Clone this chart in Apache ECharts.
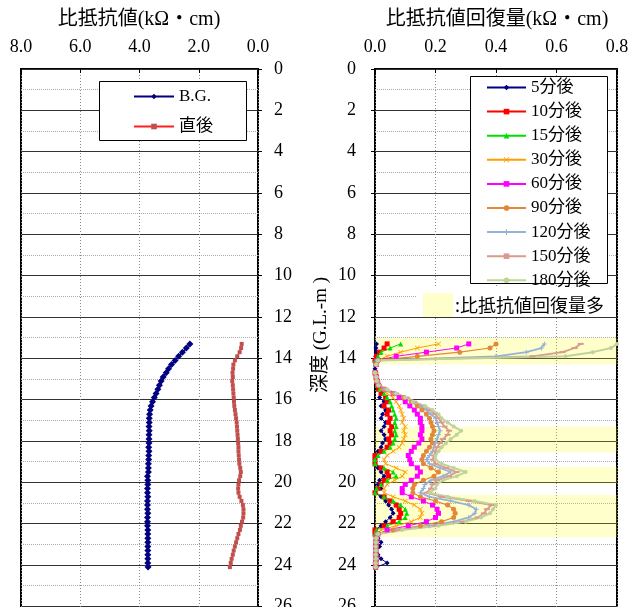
<!DOCTYPE html>
<html><head><meta charset="utf-8">
<script src="https://cdn.jsdelivr.net/npm/echarts@6/dist/echarts.min.js"></script>
<style>html,body{margin:0;padding:0;background:#fff}#c{width:630px;height:607px}</style>
</head><body><div id="c"></div>
<script>
// ---- data ----
const depths = [13.3,13.5,13.7,13.9,14.1,14.3,14.5,14.7,14.9,15.1,15.3,15.5,15.7,15.9,16.1,16.3,16.5,16.7,16.9,17.1,17.3,17.5,17.7,17.9,18.1,18.3,18.5,18.7,18.9,19.1,19.3,19.5,19.7,19.9,20.1,20.3,20.5,20.7,20.9,21.1,21.3,21.5,21.7,21.9,22.1,22.3,22.5,22.7,22.9,23.1,23.3,23.5,23.7,23.9,24.1];
const bgValues = [2.30,2.42,2.55,2.68,2.80,2.92,3.02,3.10,3.20,3.27,3.33,3.38,3.44,3.50,3.56,3.61,3.64,3.66,3.67,3.67,3.68,3.67,3.68,3.68,3.68,3.69,3.68,3.69,3.69,3.70,3.70,3.70,3.73,3.72,3.72,3.73,3.73,3.72,3.73,3.73,3.73,3.72,3.73,3.73,3.73,3.72,3.72,3.72,3.72,3.72,3.72,3.72,3.72,3.72,3.71];
const afterValues = [0.55,0.57,0.62,0.70,0.78,0.83,0.84,0.86,0.85,0.87,0.85,0.84,0.83,0.82,0.81,0.80,0.78,0.76,0.74,0.72,0.71,0.70,0.69,0.68,0.67,0.66,0.66,0.65,0.64,0.63,0.60,0.58,0.60,0.64,0.66,0.67,0.66,0.62,0.56,0.51,0.49,0.49,0.50,0.54,0.58,0.61,0.66,0.70,0.74,0.78,0.82,0.85,0.89,0.92,0.95];

const rec5 = [0.005,0.003,0.004,0.002,0.000,0.002,0.000,0.003,0.005,0.010, 0.015,0.010,0.025,0.015,0.030,0.020,0.035,0.025,0.020,0.035, 0.030,0.020,0.030,0.035,0.025,0.020,0.010,0.000,0.000,0.000, 0.010,0.020,0.030,0.015,0.010,0.020,0.000,0.020,0.035,0.045, 0.055,0.060,0.050,0.035,0.020,0.000,0.005,0.010,0.020,0.015, 0.005,0.010,0.020,0.040,0.005];
const rec10 = [0.040,0.030,0.015,0.005,0.000,0.003,-0.002,0.002,0.004,0.006, 0.008,0.012,0.020,0.035,0.040,0.030,0.045,0.040,0.050,0.045, 0.055,0.050,0.055,0.045,0.050,0.040,0.020,0.000,0.000,0.000, 0.020,0.040,0.045,0.030,0.020,0.010,0.000,0.030,0.050,0.070, 0.080,0.085,0.080,0.060,0.030,0.000,0.000,0.005,0.003,0.004, 0.002,0.003,0.004,0.003,0.002];
const rec15 = [0.085,0.050,0.020,0.010,0.000,0.002,-0.003,0.001,0.003,0.005, 0.008,0.015,0.030,0.040,0.050,0.055,0.060,0.065,0.070,0.065, 0.070,0.065,0.070,0.065,0.060,0.050,0.030,0.010,0.000,0.000, 0.030,0.060,0.070,0.040,0.020,0.005,0.000,0.030,0.060,0.085, 0.100,0.105,0.100,0.080,0.040,0.005,0.000,0.003,0.002,0.004, 0.002,0.003,0.002,0.003,0.002];
const rec30 = [0.210,0.140,0.085,0.040,0.008,0.004,-0.004,0.000,0.003,0.006, 0.010,0.020,0.040,0.060,0.070,0.080,0.085,0.090,0.095,0.090, 0.100,0.095,0.100,0.095,0.090,0.080,0.060,0.040,0.030,0.035, 0.070,0.100,0.090,0.065,0.040,0.030,0.030,0.060,0.100,0.130, 0.150,0.155,0.150,0.120,0.070,0.020,0.005,0.003,0.002,0.003, 0.002,0.003,0.002,0.002,0.002];
const rec60 = [0.310,0.270,0.170,0.070,0.008,0.004,-0.004,0.000,0.004,0.006, 0.012,0.030,0.060,0.080,0.100,0.115,0.130,0.140,0.150,0.150, 0.155,0.155,0.150,0.155,0.145,0.130,0.120,0.110,0.115,0.120, 0.140,0.150,0.140,0.120,0.100,0.090,0.090,0.120,0.160,0.190, 0.205,0.210,0.200,0.170,0.110,0.040,0.010,0.004,0.003,0.002, 0.003,0.002,0.003,0.002,0.002];
const rec90 = [0.400,0.380,0.280,0.140,0.010,0.004,-0.005,0.000,0.004,0.006, 0.012,0.030,0.060,0.095,0.120,0.140,0.155,0.170,0.180,0.185, 0.190,0.195,0.190,0.185,0.190,0.180,0.170,0.160,0.155,0.160, 0.185,0.210,0.195,0.160,0.130,0.125,0.125,0.150,0.200,0.240, 0.260,0.265,0.260,0.220,0.150,0.060,0.010,0.004,0.003,0.002, 0.003,0.002,0.003,0.002,0.002];
const rec120 = [0.560,0.550,0.500,0.400,0.010,0.004,-0.005,0.000,0.004,0.006, 0.012,0.030,0.065,0.100,0.125,0.150,0.170,0.185,0.200,0.205, 0.210,0.215,0.210,0.205,0.200,0.195,0.190,0.180,0.170,0.180, 0.215,0.250,0.225,0.185,0.165,0.160,0.150,0.180,0.250,0.310, 0.335,0.330,0.310,0.260,0.180,0.070,0.010,0.004,0.003,0.002, 0.003,0.002,0.003,0.002,0.002];
const rec150 = [0.680,0.660,0.620,0.520,0.010,0.004,-0.005,0.000,0.004,0.006, 0.012,0.035,0.070,0.105,0.130,0.160,0.180,0.200,0.210,0.220, 0.230,0.245,0.240,0.225,0.215,0.205,0.200,0.195,0.190,0.200, 0.235,0.270,0.245,0.205,0.190,0.185,0.170,0.220,0.310,0.385, 0.370,0.360,0.340,0.290,0.200,0.080,0.010,0.004,0.003,0.002, 0.003,0.002,0.003,0.002,0.002];
const rec180 = [0.800,0.780,0.720,0.630,0.010,0.004,-0.005,0.000,0.004,0.006, 0.012,0.040,0.070,0.100,0.125,0.165,0.190,0.210,0.220,0.240, 0.260,0.285,0.270,0.250,0.235,0.220,0.210,0.200,0.200,0.220, 0.260,0.300,0.270,0.225,0.205,0.200,0.180,0.240,0.330,0.400, 0.390,0.380,0.350,0.300,0.210,0.090,0.010,0.004,0.003,0.002, 0.003,0.002,0.003,0.002,0.002];

const leftSeriesNames = ['B.G.', '直後'];
const rightSeriesNames = ['5分後','10分後','15分後','30分後','60分後','90分後','120分後','150分後','180分後'];
const recoveryBands = [[13.0, 14.3], [17.3, 18.55], [19.25, 20.05], [20.6, 22.65]];
const leftTitle = '比抵抗値(kΩ・cm)';
const rightTitle = '比抵抗値回復量(kΩ・cm)';
const depthTitle = '深度 (G.L.-m )';
const bandLabel = ':比抵抗値回復量多';
const leftXMax = 8, rightXMax = 0.8, depthMax = 28;

// ---- chart ----
const FONT = '"Liberation Serif", "Times New Roman", "Noto Sans CJK JP", serif';
const pairs = vals => vals.map((v, i) => [v, depths[i]]);
const X_SYM = 'path://M0,1L1,0L5,4L9,0L10,1L6,5L10,9L9,10L5,6L1,10L0,9L4,5Z';
const PLUS_SYM = 'path://M4,0H6V4H10V6H6V10H4V6H0V4H4Z';

function xAxisCfg(grid, max, interval, inverse) {
  return {
    gridIndex: grid, type: 'value', position: 'top', min: 0, max: max, interval: interval, inverse: inverse,
    axisLine: { show: false },
    axisTick: { show: true, inside: true, length: 4, lineStyle: { color: '#000' } },
    axisLabel: { margin: 13, fontSize: 18, fontFamily: FONT, color: '#000', formatter: v => v.toFixed(1) },
    splitLine: { show: true, lineStyle: { color: '#888', type: [1, 2], width: 1 } }
  };
}
function yAxisCfg(grid, pos, margin) {
  return {
    gridIndex: grid, type: 'value', position: pos, min: 0, max: depthMax, interval: 2, inverse: true,
    axisLine: { show: false },
    axisTick: { show: true, length: 4, lineStyle: { color: '#000' } },
    axisLabel: { margin: margin, fontSize: 18, fontFamily: FONT, color: '#000' },
    splitLine: { show: true, lineStyle: { color: '#333', width: 1 } },
    minorTick: { show: false, splitNumber: 2 },
    minorSplitLine: { show: true, lineStyle: { color: '#aaa', type: [1, 1], width: 1 } }
  };
}

const rightStyles = [
  { data: rec5,   color: '#000080', symbol: 'diamond', size: 5, w: 1 },
  { data: rec10,  color: '#FF0000', symbol: 'rect', size: 5, w: 1 },
  { data: rec15,  color: '#00E000', symbol: 'triangle', size: 5, w: 1 },
  { data: rec30,  color: '#FF9F00', symbol: X_SYM, size: 5, w: 1 },
  { data: rec60,  color: '#FF00FF', symbol: 'rect', size: 5, w: 1 },
  { data: rec90,  color: '#E3873A', symbol: 'circle', size: 5, w: 1.2 },
  { data: rec120, color: '#95B3D7', symbol: PLUS_SYM, size: 5, w: 1.8 },
  { data: rec150, color: '#DA9A8E', symbol: 'rect', size: [6, 2], w: 1.8 },
  { data: rec180, color: '#BFD39A', symbol: 'circle', size: 4, w: 2 }
];

const series = [
  { name: leftSeriesNames[0], type: 'line', xAxisIndex: 0, yAxisIndex: 0, data: pairs(bgValues),
    symbol: 'diamond', symbolSize: 7, color: '#000080', lineStyle: { width: 1.5, color: '#000080' }, itemStyle: { color: '#000080' } },
  { name: leftSeriesNames[1], type: 'line', xAxisIndex: 0, yAxisIndex: 0, data: pairs(afterValues),
    symbol: 'rect', symbolSize: 4, color: '#C0504D', lineStyle: { width: 1.2, color: '#FF2020' }, itemStyle: { color: '#C0504D' } }
];
rightStyles.forEach((s, k) => {
  const obj = { name: rightSeriesNames[k], type: 'line', xAxisIndex: 1, yAxisIndex: 1, data: pairs(s.data),
    symbol: s.symbol, symbolSize: s.size, color: s.color,
    lineStyle: { width: s.w, color: s.color }, itemStyle: { color: s.color } };
  if (k === 0) {
    obj.markArea = { silent: true, itemStyle: { color: 'rgba(255,255,0,0.2)' },
      data: recoveryBands.map(b => [{ yAxis: b[0] }, { yAxis: b[1] }]) };
  }
  series.push(obj);
});

const option = {
  animation: false,
  backgroundColor: '#fff',
  grid: [
    { left: 21, top: 69, width: 237, height: 578.7, outerBoundsMode: 'none', containLabel: false, show: true, borderColor: '#000', borderWidth: 2, backgroundColor: 'transparent' },
    { left: 375, top: 69, width: 242, height: 578.7, outerBoundsMode: 'none', containLabel: false, show: true, borderColor: '#000', borderWidth: 2, backgroundColor: 'transparent' }
  ],
  xAxis: [xAxisCfg(0, leftXMax, 2, true), xAxisCfg(1, rightXMax, 0.2, false)],
  yAxis: [yAxisCfg(0, 'right', 16), yAxisCfg(1, 'left', 19)],
  legend: [
    { data: leftSeriesNames, orient: 'vertical', left: 133, top: 88, padding: 0, itemWidth: 40, itemHeight: 7, itemGap: 13,
      textStyle: { fontSize: 17, lineHeight: 16, fontFamily: FONT, color: '#000' }, z: 6, selectedMode: false },
    { data: rightSeriesNames, orient: 'vertical', left: 486, top: 79, padding: 0, itemWidth: 39, itemHeight: 7, itemGap: 7.1,
      textStyle: { fontSize: 17, lineHeight: 16, fontFamily: FONT, color: '#000' }, z: 6, selectedMode: false }
  ],
  graphic: { elements: [
    { type: 'rect', z: 5, shape: { x: 99.5, y: 81.5, width: 147, height: 59 }, style: { fill: '#fff', stroke: '#000', lineWidth: 1 } },
    { type: 'rect', z: 5, shape: { x: 470.5, y: 76.5, width: 137, height: 207 }, style: { fill: '#fff', stroke: '#000', lineWidth: 1 } },
    { type: 'rect', z: 5, shape: { x: 417, y: 288, width: 198, height: 28 }, style: { fill: '#fff' } },
    { type: 'rect', z: 5, shape: { x: 423, y: 293, width: 30, height: 24 }, style: { fill: '#FFFFCC' } },
    { type: 'text', z: 5, x: 455, y: 305, style: { text: bandLabel, font: '18px "Noto Sans CJK JP", sans-serif', fill: '#000', textAlign: 'left', textVerticalAlign: 'middle' } },
    { type: 'text', z: 5, x: 139, y: 20, style: { text: leftTitle, font: '20px ' + FONT, fill: '#000', textAlign: 'center', textVerticalAlign: 'middle' } },
    { type: 'text', z: 5, x: 497, y: 20, style: { text: rightTitle, font: '20px ' + FONT, fill: '#000', textAlign: 'center', textVerticalAlign: 'middle' } },
    { type: 'text', z: 5, x: 321, y: 335, rotation: Math.PI / 2, style: { text: depthTitle, font: '19px ' + FONT, fill: '#000', textAlign: 'center', textVerticalAlign: 'middle' } }
  ] },
  series: series
};
const chart = echarts.init(document.getElementById('c'), null, { renderer: 'canvas' });
chart.setOption(option);
</script></body></html>
